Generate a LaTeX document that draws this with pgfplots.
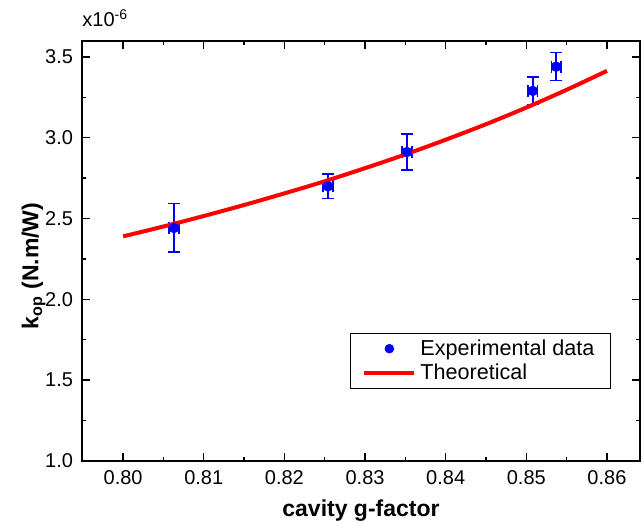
\documentclass[border=0pt]{standalone}
\usepackage{fontspec}
\setmainfont{Liberation Sans}
\usepackage{pgfplots}
\pgfplotsset{compat=1.18}

\begin{document}
\begin{tikzpicture}
\begin{axis}[
  scale only axis,
  width=279pt, height=210pt,
  xmin=0.7949, xmax=0.8641,
  ymin=1.0, ymax=3.599,
  xtick={0.80,0.81,...,0.86},
  ytick={1.0,1.5,...,3.5},
  minor x tick num=1,
  minor y tick num=1,
  tick align=inside,
  major tick length=4pt,
  minor tick length=2pt,
  axis line style={line width=0.8pt},
  every tick/.style={line width=0.7pt, black},
  xticklabel style={/pgf/number format/.cd, fixed, fixed zerofill, precision=2},
  yticklabel style={/pgf/number format/.cd, fixed, fixed zerofill, precision=1},
  /pgf/number format/assume math mode=true,
  tick label style={font=\fontsize{10}{12}\selectfont},
  xticklabel shift=1pt,
  yticklabel shift=1pt,
  scaled x ticks=false, scaled y ticks=false,
  xlabel={\textbf{cavity g-factor}},
  ylabel={\textbf{k\textsubscript{op} (N.m/W)}},
  label style={font=\fontsize{11.5}{13}\selectfont},
  xlabel style={yshift=-1pt},
  ylabel style={yshift=-7pt, xshift=-7.5pt},
  legend style={at={(0.948,0.171)}, anchor=south east, draw=black, line width=0.5pt,
    font=\fontsize{10.8}{13}\selectfont, row sep=-1pt, inner xsep=6pt, inner ysep=1pt},
  legend cell align=left,
  clip=false,
]
% experimental points with error bars
\addplot[
  only marks, color=blue, mark=*, mark size=2.4pt, forget plot,
  error bars/.cd,
  x dir=both, x explicit, y dir=both, y explicit,
  error bar style={color=blue, line width=0.75pt},
  error mark=|,
  error mark options={color=blue, mark size=3pt, line width=0.75pt},
] coordinates {
  (0.8063,2.442) +- (0.0006,0.15)
  (0.8254,2.700) +- (0.0006,0.075)
  (0.8352,2.912) +- (0.0006,0.11)
  (0.8508,3.290) +- (0.0006,0.085)
  (0.8537,3.440) +- (0.0006,0.087)
};
\addlegendimage{legend image code/.code={\path[draw=none] (0pt,0pt) -- (25pt,0pt); \fill[blue, draw=none] (12.5pt,0pt) circle (2.4pt);}}
\addlegendentry{Experimental data}
% theoretical curve
\addplot[red, line width=2pt, smooth,
  legend image code/.code={\draw[red, line width=2pt] (0pt,0pt) -- (25pt,0pt);}]
coordinates {
  (0.800,2.390) (0.805,2.451) (0.810,2.516) (0.815,2.584) (0.820,2.656)
  (0.825,2.731) (0.830,2.812) (0.835,2.897) (0.840,2.988) (0.845,3.084)
  (0.850,3.187) (0.855,3.297) (0.860,3.414)
};
\addlegendentry{Theoretical}
\node[anchor=south west, font=\fontsize{10}{12}\selectfont, inner sep=0pt]
  at ([yshift=7pt]rel axis cs:0,1) {x10\textsuperscript{-6}};
% page margins as in the reference
\path ([shift={(-41pt,20.5pt)}]rel axis cs:0,1) ([shift={(2pt,-34pt)}]rel axis cs:1,0);
\end{axis}
\end{tikzpicture}
\end{document}
